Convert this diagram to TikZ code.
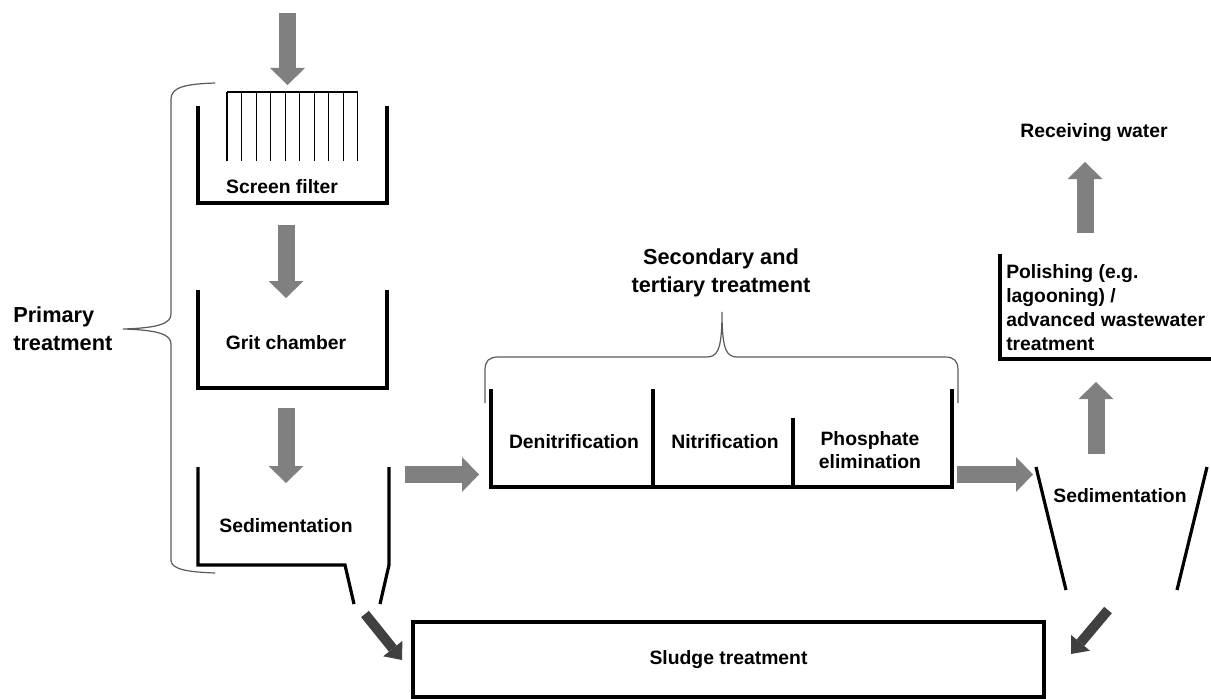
\documentclass[tikz,border=0pt]{standalone}
\usepackage{fontspec}
\setmainfont{Liberation Sans}
\usetikzlibrary{arrows.meta}
\definecolor{arrowgray}{HTML}{808080}
\definecolor{darkarrow}{HTML}{404040}
\definecolor{bracegray}{HTML}{5A5A5A}
\begin{document}
\begin{tikzpicture}[x=0.75pt,y=-0.75pt,
  wall/.style={line width=2.4pt, line join=miter, line cap=butt},
  bracepath/.style={draw=bracegray, line width=0.9pt},
  flow/.style={draw=arrowgray, line width=12.75pt, -{Triangle[width=26.25pt,length=12.75pt,line width=0pt]}},
  sludgeflow/.style={draw=darkarrow, line width=7.5pt, -{Triangle[width=18.5pt,length=11pt,line width=0pt]}},
  lbl/.style={font=\bfseries\fontsize{14.5}{17.3}\selectfont, inner sep=0pt, align=center},
  biglbl/.style={font=\bfseries\fontsize{16.3}{20.6}\selectfont, inner sep=0pt},
  screenline/.style={line width=0.8pt}]
\useasboundingbox (0,0) rectangle (1211,699);

% ---------- Primary treatment ----------
% screen filter
\draw[screenline] (227,92) -- (358,92);
\foreach \i in {0,...,9} \draw[screenline] ({227+\i*14.55},92) -- ({227+\i*14.55},161);
\draw[wall] (198,106) -- (198,203) -- (387,203) -- (387,106);
\node[lbl] (screen) at (282,187) {Screen filter};
% grit chamber
\draw[wall] (198,290) -- (198,388) -- (387,388) -- (387,290);
\node[lbl] (grit) at (286,343) {Grit chamber};
% sedimentation 1
\draw[wall] (198,467) -- (198,565) -- (345,565) -- (354,604);
\draw[wall] (389,467) -- (389,565) -- (380,604);
\node[lbl] (sed1) at (286,526) {Sedimentation};

% left brace
\draw[bracepath] (215,83) .. controls (186,84) and (171,87) .. (171,99) -- (171,314)
  .. controls (171,323) and (160,328) .. (123,329)
  .. controls (160,330) and (171,335) .. (171,344) -- (171,560)
  .. controls (171,569) and (186,572) .. (215,573);
\node[biglbl, align=left, anchor=west] (primary) at (13,328.5) {Primary\\treatment};

% ---------- Secondary / tertiary ----------
\draw[wall] (491,389) -- (491,487) -- (952,487) -- (952,389);
\draw[wall] (653,389) -- (653,487);
\draw[wall] (793,418) -- (793,487);
\node[lbl] (denit) at (574,442) {Denitrification};
\node[lbl] (nit) at (725,442) {Nitrification};
\node[lbl] (phos) at (870,450.5) {Phosphate\\elimination};
\draw[bracepath] (485,403) -- (485,370) .. controls (485,361) and (489,357) .. (498,357) -- (706,357)
  .. controls (717,357) and (722,352) .. (722,312)
  .. controls (722,352) and (727,357) .. (738,357) -- (945,357)
  .. controls (954,357) and (958,361) .. (958,370) -- (958,403);
\node[biglbl, align=center, font=\bfseries\fontsize{16.3}{21}\selectfont] (sec) at (721,273) {Secondary and\\tertiary treatment};

% ---------- Right side ----------
\draw[wall] (1036,467) -- (1066,590);
\draw[wall] (1207,467) -- (1177,590);
\node[lbl] (sed2) at (1120,496) {Sedimentation};
\draw[wall] (1000,254) -- (1000,359) -- (1215,359);
\node[lbl, align=left, anchor=west, font=\bfseries\fontsize{14.5}{17.8}\selectfont] (polish) at (1006,307.5)
  {Polishing (e.g.\\lagooning) /\\advanced wastewater\\treatment};
\node[lbl] (recv) at (1094,133) {Receiving water};

% ---------- Sludge treatment ----------
\node[draw, wall, minimum width=473.25pt, minimum height=56.25pt, inner sep=0pt,
  font=\bfseries\fontsize{14.5}{17.3}\selectfont] (sludge) at (728.5,659.5) {Sludge treatment};

% ---------- flow arrows ----------
\coordinate (a1s) at (287.5,13);  \coordinate (a1e) at (287.5,85);
\coordinate (a2s) at (286,225);   \coordinate (a2e) at (286,298);
\coordinate (a3s) at (286,408);   \coordinate (a3e) at (286,483);
\coordinate (a4s) at (405,474.5); \coordinate (a4e) at (479,474.5);
\coordinate (a5s) at (957,474.5); \coordinate (a5e) at (1033,474.5);
\coordinate (a6s) at (1096,454);  \coordinate (a6e) at (1096,382);
\coordinate (a7s) at (1085,233);  \coordinate (a7e) at (1085,162);
\draw[flow] (a1s) -- (a1e);
\draw[flow] (a2s) -- (a2e);
\draw[flow] (a3s) -- (a3e);
\draw[flow] (a4s) -- (a4e);
\draw[flow] (a5s) -- (a5e);
\draw[flow] (a6s) -- (a6e);
\draw[flow] (a7s) -- (a7e);

\coordinate (s1s) at (365,614);  \coordinate (s1e) at (402,660);
\coordinate (s2s) at (1108,610); \coordinate (s2e) at (1071,654);
\draw[sludgeflow] (s1s) -- (s1e);
\draw[sludgeflow] (s2s) -- (s2e);
\end{tikzpicture}
\end{document}
